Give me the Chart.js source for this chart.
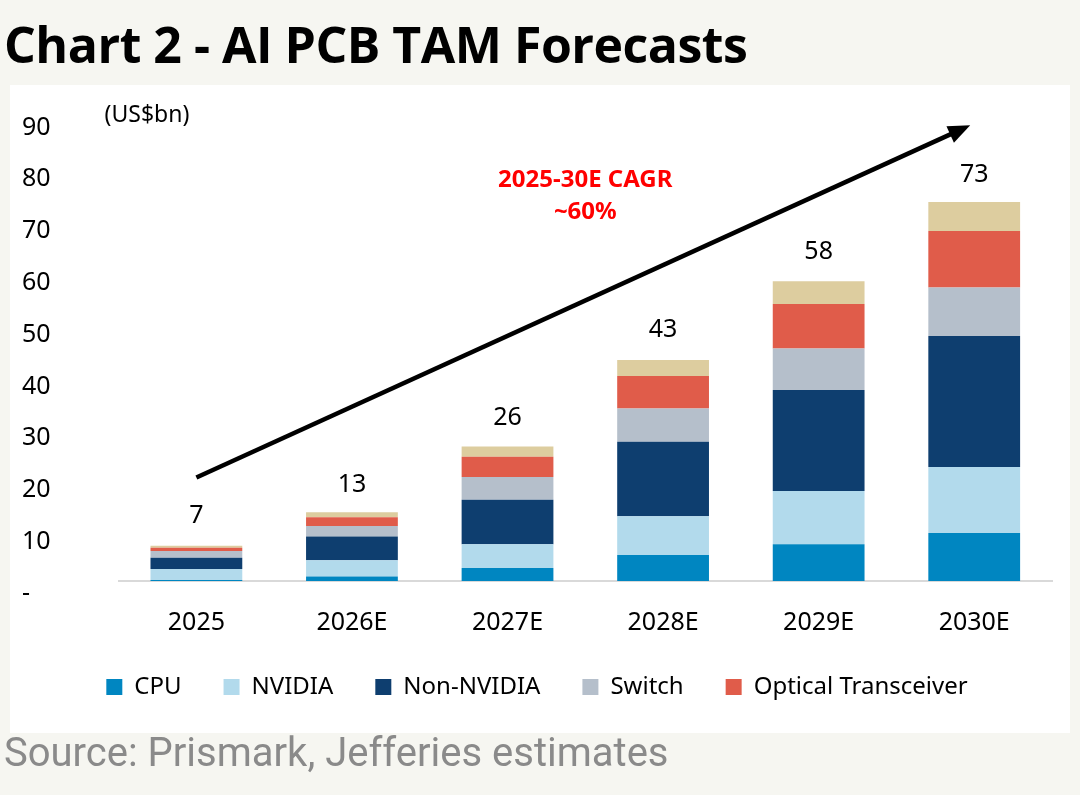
<!DOCTYPE html>
<html><head><meta charset="utf-8">
<script src="https://cdn.jsdelivr.net/npm/chart.js@4"></script>
<style>
body{margin:0;width:1080px;height:795px;background:#f6f6f1;font-family:"Noto Sans",sans-serif;position:relative;overflow:hidden}
#title{position:absolute;left:4px;top:10px;font-size:50px;font-weight:bold;color:#000;font-family:"Open Sans","Noto Sans",sans-serif;letter-spacing:-0.5px}
#box{position:absolute;left:10px;top:85px;width:1060px;height:648px;background:#fff}
#src{position:absolute;left:4px;top:729px;font-size:40px;color:#8a8a8a;font-family:Roboto,sans-serif}
</style></head><body>
<div id="title">Chart 2 - AI PCB TAM Forecasts</div>
<div id="box"><canvas id="c" width="1060" height="648"></canvas></div>
<div id="src">Source: Prismark, Jefferies estimates</div>
<script>
const categories=["2025","2026E","2027E","2028E","2029E","2030E"];
const cpu=[0.2,0.85,2.5,5.0,7.1,9.25];
const nvidia=[2.1,3.15,4.6,7.5,10.3,12.75];
const nonNvidia=[2.2,4.6,8.6,14.4,19.5,25.3];
const switchV=[1.3,2.0,4.4,6.4,8.0,9.4];
const optical=[0.6,1.7,3.9,6.3,8.6,10.9];
const other=[0.4,1.0,2.0,3.1,4.4,5.6];
const totals=[7,13,26,43,58,73];
const yTicks=[0,10,20,30,40,50,60,70,80,90];
const arrowFrom={idx:0,val:20}, arrowTo={idx:5,val:88};
const F='"Noto Sans",sans-serif';
const mk=(l,d,c)=>({label:l,data:d,backgroundColor:c,borderWidth:0});
const plug={id:'extra',afterDatasetsDraw(ch){
 const {ctx,scales:{x,y}}=ch;ctx.save();
 ctx.font='25px '+F;ctx.fillStyle='#000';ctx.textAlign='center';ctx.textBaseline='bottom';
 totals.forEach((t,i)=>ctx.fillText(t,x.getPixelForValue(i),y.getPixelForValue(t)-16));
 ctx.textAlign='left';ctx.textBaseline='middle';ctx.font='23px '+F;
 ctx.fillText('(US$bn)',x.left-14,y.getPixelForValue(90));
 const x1=x.getPixelForValue(arrowFrom.idx),y1=y.getPixelForValue(arrowFrom.val);
 const x2=x.getPixelForValue(arrowTo.idx)-4,y2=y.getPixelForValue(arrowTo.val);
 const a=Math.atan2(y2-y1,x2-x1);
 ctx.strokeStyle='#000';ctx.lineWidth=4.5;ctx.beginPath();ctx.moveTo(x1,y1);ctx.lineTo(x2-14*Math.cos(a),y2-14*Math.sin(a));ctx.stroke();
 ctx.fillStyle='#000';ctx.beginPath();ctx.moveTo(x2,y2);
 ctx.lineTo(x2-22*Math.cos(a)+9*Math.sin(a),y2-22*Math.sin(a)-9*Math.cos(a));
 ctx.lineTo(x2-22*Math.cos(a)-9*Math.sin(a),y2-22*Math.sin(a)+9*Math.cos(a));ctx.fill();
 ctx.fillStyle='#ff0000';ctx.font='bold 24px '+F;ctx.textAlign='center';
 const cx=(x.getPixelForValue(2)+x.getPixelForValue(3))/2;
 ctx.fillText('2025-30E CAGR',cx,y.getPixelForValue(77.5));
 ctx.fillText('~60%',cx,y.getPixelForValue(71.3));
 ctx.restore();}};
const ch=new Chart(document.getElementById('c'),{type:'bar',
 data:{labels:categories,datasets:[mk('CPU',cpu,'#0086c1'),mk('NVIDIA',nvidia,'#b2daec'),mk('Non-NVIDIA',nonNvidia,'#0e3e6f'),mk('Switch',switchV,'#b5bfcb'),mk('Optical Transceiver',optical,'#e05c4a'),mk('Other',other,'#ddcd9f')]},
 plugins:[plug],
 options:{responsive:false,animation:false,
  layout:{padding:{left:12,right:18,top:18,bottom:24}},
  datasets:{bar:{barPercentage:0.59,categoryPercentage:1}},
  plugins:{tooltip:{enabled:false},
   legend:{position:'bottom',labels:{
     generateLabels:c=>Chart.defaults.plugins.legend.labels.generateLabels(c).filter(i=>i.text!=='Other').map((i,k,a)=>({...i,text:i.text+(k<a.length-1?'\u2003':'')})),
     boxWidth:16,boxHeight:16,padding:18,font:{size:24,family:F},color:'#000'}}},
  scales:{
   x:{stacked:true,grid:{display:false},border:{color:'#d9d9d9',width:2},ticks:{font:{size:25,family:F},color:'#000',padding:19}},
   y:{stacked:true,min:0,max:90,afterBuildTicks:s=>{s.ticks=yTicks.map(v=>({value:v}));},grid:{display:false},border:{display:false},
      ticks:{font:{size:25,family:F},color:'#000',padding:30,align:'start',crossAlign:'far',callback:v=>v===0?'-':v}}}}});
</script></body></html>
